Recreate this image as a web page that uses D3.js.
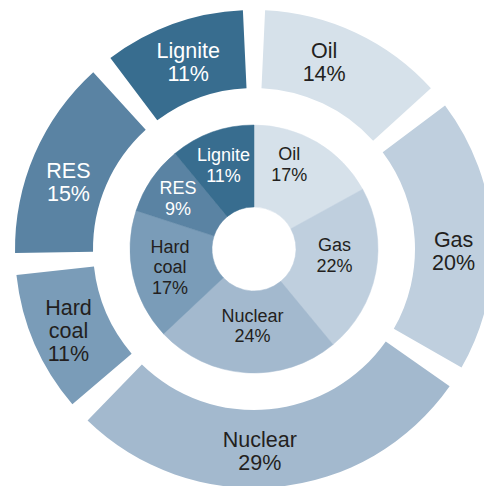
<!DOCTYPE html>
<html>
<head>
<meta charset="utf-8">
<script src="https://cdn.jsdelivr.net/npm/d3@7"></script>
<style>
  html, body { margin: 0; padding: 0; background: #fff; overflow: hidden; }
  svg { display: block; font-family: "Liberation Sans", Arial, sans-serif; }
</style>
</head>
<body>
<svg id="chart"></svg>
<script>
// energy mix shares, clockwise from 12 o'clock
const categories = ["Oil", "Gas", "Nuclear", "Hard coal", "RES", "Lignite"];
const innerValues = [17, 22, 24, 17, 9, 11];
const outerValues = [14, 20, 29, 11, 15, 11];
const colors = ["#d6e1ea", "#bfcfde", "#a3b9ce", "#7a9cb8", "#5a83a3", "#386d8f"];
const whiteText = ["RES", "Lignite"];

// hand placed labels in the original, shifted a bit off the centroid
const innerNudge = { "Oil": [-9, -10], "Gas": [-5, -10], "Nuclear": [4, -10], "Hard coal": [1, -1], "RES": [-4, -2], "Lignite": [-1, -2] };
const outerNudge = { "Oil": [-15, -6], "Gas": [0, 15], "Nuclear": [-13, 3], "Hard coal": [-2, 2], "RES": [-2, 12], "Lignite": [2, 1] };

const width = 484, height = 486;
const cx = 254, cy = 249;

const svg = d3.select("#chart")
    .attr("width", width)
    .attr("height", height);

const g = svg.append("g").attr("transform", `translate(${cx},${cy})`);

const color = d3.scaleOrdinal().domain(categories).range(colors);

const pie = d3.pie().sort(null).value(d => d.value);

function rows(values) {
    return categories.map((c, i) => ({ name: c, value: values[i] }));
}

// inner ring: slices touch each other
const innerArc = d3.arc().innerRadius(42).outerRadius(124);
const innerData = pie(rows(innerValues));

g.append("g").selectAll("path")
    .data(innerData)
    .join("path")
    .attr("d", innerArc)
    .attr("fill", d => color(d.data.name))
    .attr("stroke", d => color(d.data.name))
    .attr("stroke-width", 0.5);

// outer ring: radial gaps between slices
const pad = 0.093;
const outerArc = d3.arc().innerRadius(161).outerRadius(239);
const outerData = pie(rows(outerValues)).map(d => ({
    ...d,
    startAngle: d.startAngle + pad / 2,
    endAngle: d.endAngle - pad / 2
}));

g.append("g").selectAll("path")
    .data(outerData)
    .join("path")
    .attr("d", outerArc)
    .attr("fill", d => color(d.data.name));

function labels(data, arc, nudge, size, lineH) {
    const lab = g.append("g").selectAll("text")
        .data(data)
        .join("text")
        .attr("text-anchor", "middle")
        .attr("font-size", size)
        .attr("fill", d => whiteText.includes(d.data.name) ? "#ffffff" : "#231f20")
        .attr("transform", d => {
            const [x, y] = arc.centroid(d);
            const [nx, ny] = nudge[d.data.name];
            return `translate(${x + nx},${y + ny})`;
        });

    lab.each(function(d) {
        const lines = d.data.name.split(" ").concat([d.data.value + "%"]);
        const y0 = -(lines.length - 1) * lineH / 2;
        d3.select(this).selectAll("tspan")
            .data(lines)
            .join("tspan")
            .attr("x", 0)
            .attr("y", (t, i) => y0 + i * lineH)
            .attr("dy", "0.35em")
            .text(t => t);
    });
}

labels(innerData, d3.arc().innerRadius(50).outerRadius(124), innerNudge, 18, 20.5);
labels(outerData, outerArc, outerNudge, 21.5, 23);
</script>
</body>
</html>
